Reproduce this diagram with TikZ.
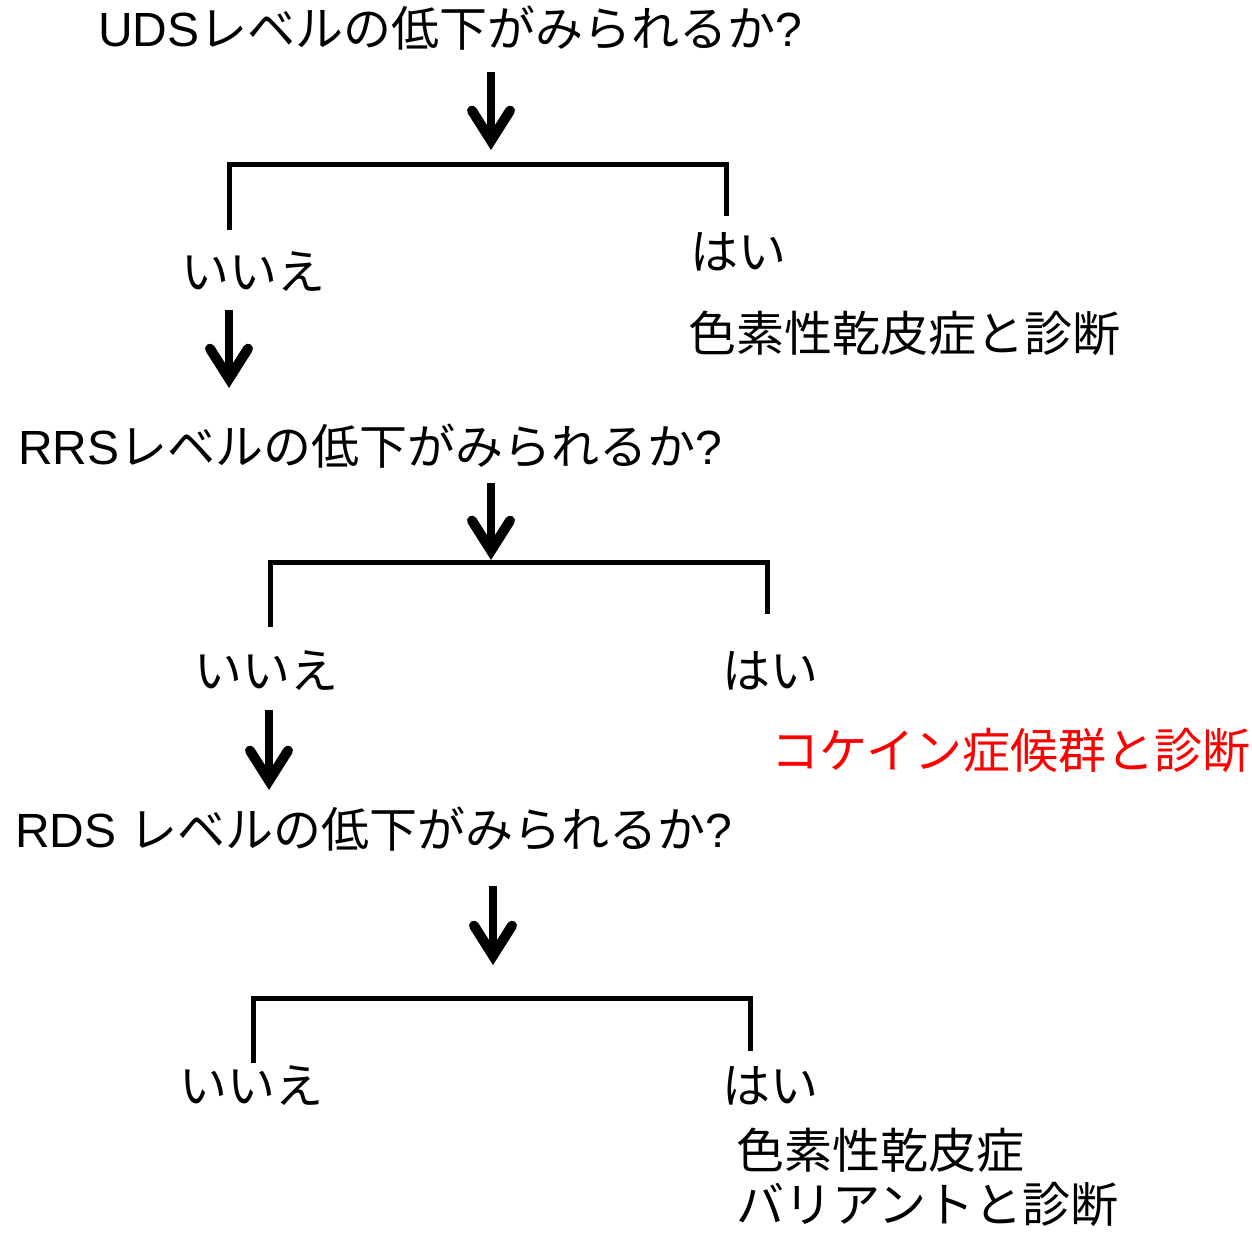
\documentclass[tikz,border=0pt]{standalone}
\usepackage{fontspec}
\setmainfont{Liberation Sans}
\newfontfamily\jp{Noto Sans CJK JP}
\usetikzlibrary{arrows.meta}
\definecolor{diagred}{RGB}{255,0,0}
\begin{document}
\begin{tikzpicture}[x=1pt,y=-1pt,
  txt/.style={anchor=base west, inner sep=0pt, font=\fontsize{48}{58}\selectfont},
  downarrow/.style={line width=8pt, -{Straight Barb[length=30pt,width=38pt,line width=10pt,line cap=round,line join=miter]}},
  bracket/.style={line width=5pt, line cap=butt, line join=miter}]
\useasboundingbox (0,0) rectangle (1252,1232);
\fill[white] (0,0) rectangle (1252,1232);

% texts
\node[txt] (q1) at (98,46) {UDS{\jp レベルの低下がみられるか}?};
\node[txt] (no1) at (181,289) {\jp いいえ};
\node[txt] (yes1) at (690,269) {\jp はい};
\node[txt] (d1) at (688,351) {\jp 色素性乾皮症と診断};
\node[txt] (q2) at (18,464) {RRS{\jp レベルの低下がみられるか}?};
\node[txt] (no2) at (194,688) {\jp いいえ};
\node[txt] (yes2) at (722,688) {\jp はい};
\node[txt, text=diagred] (d2) at (771,768) {\jp コケイン症候群と診断};
\node[txt] (q3) at (15,847) {RDS {\jp レベルの低下がみられるか}?};
\node[txt] (no3) at (179,1103) {\jp いいえ};
\node[txt] (yes3) at (722,1103) {\jp はい};
\node[txt] (d3a) at (736,1168) {\jp 色素性乾皮症};
\node[txt] (d3b) at (736,1222) {\jp バリアントと診断};

% arrow coordinates
\coordinate (a1s) at (491,72);  \coordinate (a1e) at (491,150);
\coordinate (a2s) at (229,310); \coordinate (a2e) at (229,388);
\coordinate (a3s) at (491,483); \coordinate (a3e) at (491,560);
\coordinate (a4s) at (269,710); \coordinate (a4e) at (269,790);
\coordinate (a5s) at (493,886); \coordinate (a5e) at (493,965);

% bracket coordinates
\coordinate (b1a) at (229,230); \coordinate (b1b) at (229,164);
\coordinate (b1c) at (726,164); \coordinate (b1d) at (726,216);
\coordinate (b2a) at (270,627); \coordinate (b2b) at (270,562);
\coordinate (b2c) at (767,562); \coordinate (b2d) at (767,614);
\coordinate (b3a) at (253,1063); \coordinate (b3b) at (253,998);
\coordinate (b3c) at (750,998); \coordinate (b3d) at (750,1051);

\draw[bracket] (b1a) -- (b1b) -- (b1c) -- (b1d);
\draw[bracket] (b2a) -- (b2b) -- (b2c) -- (b2d);
\draw[bracket] (b3a) -- (b3b) -- (b3c) -- (b3d);

\draw[downarrow] (a1s) -- (a1e);
\draw[downarrow] (a2s) -- (a2e);
\draw[downarrow] (a3s) -- (a3e);
\draw[downarrow] (a4s) -- (a4e);
\draw[downarrow] (a5s) -- (a5e);
\end{tikzpicture}
\end{document}
